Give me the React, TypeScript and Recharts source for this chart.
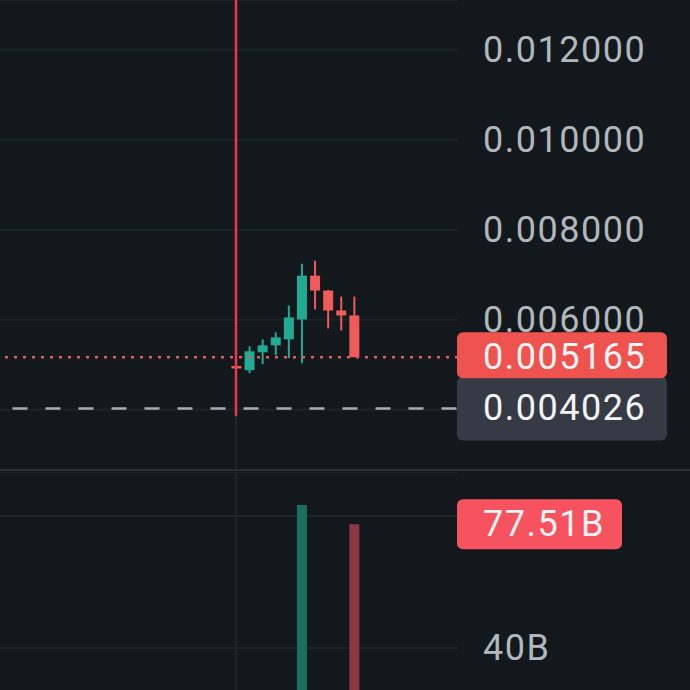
import React from "react";
import {
  ComposedChart,
  Bar,
  Cell,
  XAxis,
  YAxis,
  CartesianGrid,
  ReferenceLine,
} from "recharts";

// ---------------------- DATA ----------------------
// 10 candles after listing
const opens = [0.00497, 0.004876, 0.005274, 0.005429, 0.005562, 0.006004, 0.006978, 0.006646, 0.006204, 0.006093];
const highs = [0.00498, 0.005407, 0.005562, 0.005717, 0.006314, 0.007243, 0.00731, 0.00666, 0.006513, 0.006513];
const lows = [0.00495, 0.00481, 0.005009, 0.005208, 0.005142, 0.005031, 0.006226, 0.005805, 0.005761, 0.005165];
const closes = [0.00496, 0.005296, 0.005429, 0.005606, 0.006049, 0.006978, 0.006646, 0.006204, 0.006093, 0.005165];
// volume in billions
const volumes = [2, 12, 6, 5, 18, 83.3, 22, 15, 9, 77.51];

const priceTicks = [0.004, 0.006, 0.008, 0.01, 0.012];
const volumeTicks = [40, 80];
// tick labels that sit under a tag in the original, grid line only
const coveredTicks = [0.004, 80];
const lastPrice = 0.005165;
const refPrice = 0.004026;
const lastVolume = 77.51;

const PRICE_MIN = 0.002657;
const PRICE_MAX = 0.013107;
const MARK_END = 0.003853;
const VOL_MAX = 93.33;

const LEAD = 17; // empty slots before the first candle
const SLOTS = 34;

// ---------------------- STYLE ----------------------
const BG = "#12181b";
const GRID = "#1d2427";
const UP = "#22ab94";
const DOWN = "#f05a5a";
const UP_VOL = "#1e6e60";
const DOWN_VOL = "#8c3544";
const AXIS_TEXT = "#b1b7bb";
const FONT = "Roboto, sans-serif";
const MARGIN = { top: 0, right: 0, bottom: 0, left: 0 };
const XPAD = { left: 6.75, right: 5.85 };

const rows = Array.from({ length: SLOTS }, (_, i) => {
  const k = i - LEAD;
  if (k < 0 || k >= opens.length) return { slot: i };
  return {
    slot: i,
    open: opens[k],
    high: highs[k],
    low: lows[k],
    close: closes[k],
    volume: volumes[k],
  };
});

function Candle(props: any) {
  const { x, y, width, height, payload } = props;
  if (payload.open == null) return null;
  const top = Math.min(y, y + height);
  const h = Math.abs(height);
  const px = h / (payload.high - payload.low);
  const yOf = (v: number) => top + (payload.high - v) * px;
  const up = payload.close >= payload.open;
  const color = up ? UP : DOWN;
  const bTop = yOf(Math.max(payload.open, payload.close));
  const bBot = yOf(Math.min(payload.open, payload.close));
  const cx = x + width / 2;
  return (
    <g>
      <rect x={cx - 1} y={top} width={2} height={Math.max(h, 1)} fill={color} />
      <rect x={x} y={bTop} width={width} height={Math.max(bBot - bTop, 2.5)} fill={color} />
    </g>
  );
}

// price / volume tag drawn in the axis area
function badge(text: string, fill: string, h: number, right: number, dy = 0) {
  return (p: any) => {
    const vb = p.viewBox || {};
    const left = vb.x + vb.width - 1;
    const cy = vb.y + dy;
    return (
      <g>
        <rect x={left} y={cy - h / 2} width={right - left} height={h} rx={6} fill={fill} />
        <text
          x={483}
          y={vb.y}
          dominantBaseline="central"
          fill="#f4f4f4"
          fontSize={36}
          fontFamily={FONT}
          letterSpacing={1.5}
        >
          {text}
        </text>
      </g>
    );
  };
}

const axisText = (fmt: (v: number) => string) => (p: any) =>
  coveredTicks.includes(p.payload.value) ? <g /> : (
    <text x={483} y={p.y} dominantBaseline="central" fill={AXIS_TEXT} fontSize={36} fontFamily={FONT} letterSpacing={1.5}>
      {fmt(p.payload.value)}
    </text>
  );

const PriceTick = axisText((v) => v.toFixed(6));
const VolTick = axisText((v) => `${v}B`);

const layer = (top: number): React.CSSProperties => ({ position: "absolute", left: 0, top });

export default function App() {
  return (
    <div
      style={{
        position: "fixed",
        left: 0,
        top: 0,
        width: 690,
        height: 690,
        overflow: "hidden",
        background: BG,
        fontFamily: FONT,
      }}
    >
      {/* price pane */}
      <div style={layer(0)}>
        <ComposedChart width={690} height={470} data={rows} margin={MARGIN}>
          <CartesianGrid vertical={false} stroke={GRID} strokeWidth={2} />
          <XAxis dataKey="slot" type="category" hide padding={XPAD} />
          <YAxis
            orientation="right"
            width={232}
            domain={[PRICE_MIN, PRICE_MAX]}
            ticks={priceTicks}
            allowDataOverflow
            axisLine={false}
            tickLine={false}
            tick={PriceTick}
          />
          <ReferenceLine x={LEAD} stroke={GRID} strokeWidth={2} />
          <ReferenceLine
            segment={[
              { x: LEAD, y: PRICE_MAX },
              { x: LEAD, y: MARK_END },
            ]}
            stroke="#e8394d"
            strokeWidth={2.5}
          />
          <Bar
            dataKey={(d: any) => (d.open == null ? null : [d.low, d.high])}
            barSize={10}
            shape={<Candle />}
            isAnimationActive={false}
          />
        </ComposedChart>
      </div>
      {/* price lines + tags, on top of axis labels */}
      <div style={layer(0)}>
        <ComposedChart width={690} height={470} data={rows} margin={MARGIN}>
          <XAxis dataKey="slot" type="category" hide padding={XPAD} />
          <YAxis
            orientation="right"
            width={232}
            domain={[PRICE_MIN, PRICE_MAX]}
            allowDataOverflow
            axisLine={false}
            tickLine={false}
            tick={false}
          />
          <ReferenceLine
            y={refPrice}
            stroke="#a7acb0"
            strokeWidth={2.5}
            strokeDasharray="0 1.5 15 16.5"
            label={badge(refPrice.toFixed(6), "#363a45", 64, 667)}
          />
          <ReferenceLine
            y={lastPrice}
            stroke="#e15a5f"
            strokeWidth={2.5}
            strokeDasharray="3 6"
            label={badge(lastPrice.toFixed(6), "#ef5350", 46, 667, -2)}
          />
        </ComposedChart>
      </div>
      <div style={{ position: "absolute", left: 0, top: 469, width: 690, height: 2, background: "#2a2f33" }} />
      {/* volume pane */}
      <div style={layer(472)}>
        <ComposedChart width={690} height={308} data={rows} margin={MARGIN}>
          <CartesianGrid vertical={false} stroke={GRID} strokeWidth={2} />
          <XAxis dataKey="slot" type="category" hide padding={XPAD} />
          <YAxis
            orientation="right"
            width={232}
            domain={[0, VOL_MAX]}
            ticks={volumeTicks}
            allowDataOverflow
            axisLine={false}
            tickLine={false}
            tick={VolTick}
          />
          <ReferenceLine x={LEAD} stroke={GRID} strokeWidth={2} />
          <Bar dataKey="volume" barSize={10} isAnimationActive={false}>
            {rows.map((r: any, i) => (
              <Cell key={i} fill={r.close >= r.open ? UP_VOL : DOWN_VOL} />
            ))}
          </Bar>
        </ComposedChart>
      </div>
      <div style={layer(472)}>
        <ComposedChart width={690} height={308} data={rows} margin={MARGIN}>
          <XAxis dataKey="slot" type="category" hide padding={XPAD} />
          <YAxis
            orientation="right"
            width={232}
            domain={[0, VOL_MAX]}
            allowDataOverflow
            axisLine={false}
            tickLine={false}
            tick={false}
          />
          <ReferenceLine
            y={lastVolume}
            stroke="none"
            label={badge(`${lastVolume}B`, "#f7525f", 50, 622)}
          />
        </ComposedChart>
      </div>
    </div>
  );
}
